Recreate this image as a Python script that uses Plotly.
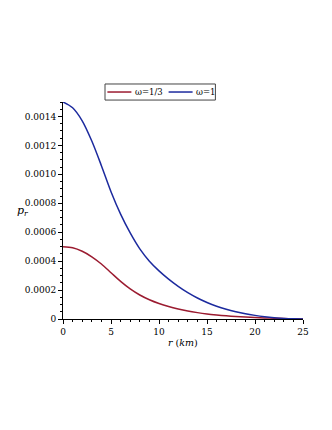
import plotly.graph_objects as go

# radius in km
r_km = [0, 1, 2, 3, 4, 5, 6, 7, 8, 9, 10, 11, 12, 13, 14, 15, 16, 17, 18, 19, 20, 21, 22, 23, 24, 25]

# radial pressure, omega = 1/3
pr_third = [0.000500, 0.000492, 0.000468, 0.000430, 0.000380, 0.000320, 0.000260, 0.000208,
            0.000166, 0.000133, 0.000107, 0.000086, 0.000069, 0.000055, 0.000044, 0.000035,
            0.000028, 0.000022, 0.000017, 0.000013, 0.000010, 0.0000075, 0.0000053, 0.0000034,
            0.0000017, 0.0]

# radial pressure, omega = 1
pr_one = [0.00150, 0.00146, 0.00137, 0.00123, 0.00106, 0.00088, 0.000725, 0.000595, 0.000485,
          0.000400, 0.000333, 0.000276, 0.000226, 0.000182, 0.000145, 0.000114, 0.000088,
          0.000067, 0.000050, 0.000036, 0.000025, 0.000016, 0.000009, 0.000004, 0.0000012, 0.0]

series_names = ["ω=1/3", "ω=1"]

y_ticks = [0, 0.0002, 0.0004, 0.0006, 0.0008, 0.0010, 0.0012, 0.0014]
y_labels = ["0", "0.0002", "0.0004", "0.0006", "0.0008", "0.0010", "0.0012", "0.0014"]
x_ticks = [0, 5, 10, 15, 20, 25]

RED = "#9b1b30"
BLUE = "#1c2a9e"
FONT = "DejaVu Serif"

fig = go.Figure()
for name, vals, col in zip(series_names, [pr_third, pr_one], [RED, BLUE]):
    fig.add_trace(go.Scatter(x=r_km, y=vals, name=name, mode="lines", showlegend=False,
                             line=dict(color=col, width=1.5, shape="spline", smoothing=0.8)))

axis_common = dict(showgrid=False, zeroline=False, showline=True, linecolor="black",
                   linewidth=1, ticks="outside", ticklen=4, tickcolor="black",
                   tickfont=dict(family=FONT, size=9, color="black"))

fig.update_xaxes(range=[0, 25], tickvals=x_ticks,
                 minor=dict(ticks="outside", ticklen=2, dtick=1, tickcolor="black"),
                 **axis_common)
fig.update_yaxes(range=[0, 0.0015], tickvals=y_ticks, ticktext=y_labels,
                 minor=dict(ticks="outside", ticklen=2, dtick=0.00005, tickcolor="black"),
                 **axis_common)

# compact boxed legend above the plot (plotly's own legend is much wider)
fig.add_shape(type="rect", xref="paper", yref="paper", x0=0.175, x1=0.635, y0=1.009, y1=1.083,
              line=dict(color="#444", width=1), fillcolor="white")
leg_lines = [(0.185, 0.285), (0.44, 0.54)]
for (x0, x1), name, col in zip(leg_lines, series_names, [RED, BLUE]):
    fig.add_shape(type="line", xref="paper", yref="paper", x0=x0, x1=x1, y0=1.046, y1=1.046,
                  line=dict(color=col, width=1.5))
    fig.add_annotation(text=name, x=x1 + 0.006, y=1.046, xref="paper", yref="paper",
                       xanchor="left", yanchor="middle", showarrow=False,
                       font=dict(family=FONT, size=8.5, color="black"))

fig.add_annotation(text="<i>p</i><sub><i>r</i></sub>", x=-0.165, y=0.5, xref="paper", yref="paper",
                   xanchor="center", showarrow=False, font=dict(family=FONT, size=11, color="black"))
fig.add_annotation(text="<i>r</i> (<i>km</i>)", x=0.5, y=-0.075, xref="paper", yref="paper",
                   showarrow=False, yanchor="top", font=dict(family=FONT, size=9.5, color="black"))

# page body has an 8px margin, so the plot box is offset by that much
fig.update_layout(
    width=332, height=430,
    margin=dict(l=55, r=37, t=94, b=119),
    paper_bgcolor="white", plot_bgcolor="white",
    font=dict(family=FONT, color="black"),
)

fig.write_html("out.html")
